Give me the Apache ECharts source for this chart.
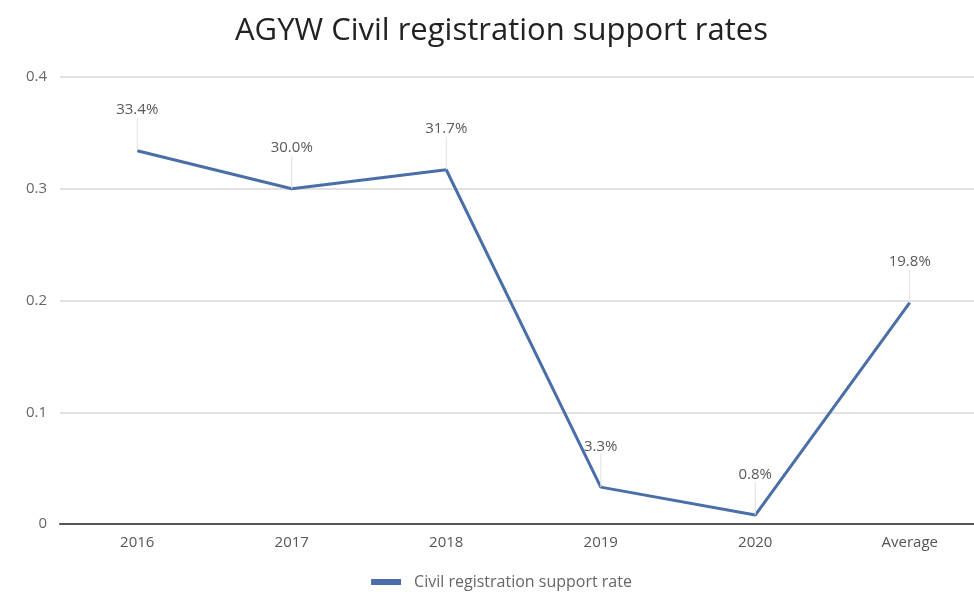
<!DOCTYPE html>
<html>
<head>
<meta charset="utf-8">
<script src="https://cdn.jsdelivr.net/npm/echarts@6/dist/echarts.min.js"></script>
<style>
html,body{margin:0;padding:0;background:#fff;overflow:hidden;}
#main{width:1003px;height:595px;}
</style>
</head>
<body>
<div id="main"></div>
<script>
const categories = ['2016', '2017', '2018', '2019', '2020', 'Average'];
const rates = [0.334, 0.300, 0.317, 0.033, 0.008, 0.198];
const seriesName = 'Civil registration support rate';
const titleText = 'AGYW Civil registration support rates';

const chart = echarts.init(document.getElementById('main'));
chart.setOption({
  backgroundColor: '#ffffff',
  animation: false,
  title: {
    text: titleText,
    left: 'center',
    top: 11,
    textStyle: { fontFamily: 'Open Sans', fontSize: 31, fontWeight: 'normal', color: '#222' }
  },
  legend: {
    top: 569,
    left: 'center',
    itemWidth: 30,
    itemHeight: 6,
    itemGap: 10,
    icon: 'rect',
    textStyle: { fontFamily: 'Open Sans', fontSize: 16, color: '#666', padding: [0, 0, 0, 8] },
    data: [seriesName]
  },
  grid: { left: 60, right: 16, top: 77, bottom: 71 },
  xAxis: {
    type: 'category',
    data: categories,
    boundaryGap: true,
    axisLine: { lineStyle: { color: '#555', width: 2 } },
    axisTick: { show: false },
    axisLabel: { fontFamily: 'Open Sans', fontSize: 15, color: '#555', margin: 11 }
  },
  yAxis: {
    type: 'value',
    min: 0,
    max: 0.4,
    interval: 0.1,
    axisLine: { show: false },
    axisTick: { show: false },
    axisLabel: { fontFamily: 'Open Sans', fontSize: 15, color: '#666', margin: 13 },
    splitLine: { lineStyle: { color: '#d9d9d9', width: 1.5 } }
  },
  series: [{
    name: seriesName,
    type: 'line',
    data: rates,
    color: '#4a6ea8',
    symbol: 'circle',
    symbolSize: 0.1,
    showSymbol: true,
    lineStyle: { color: '#4a6ea8', width: 3 },
    label: {
      show: true,
      position: 'top',
      distance: 4,
      fontFamily: 'Open Sans',
      fontSize: 15,
      color: '#595959',
      formatter: p => (p.value * 100).toFixed(1) + '%'
    },
    labelLayout: { dy: -29 },
    labelLine: { show: true, lineStyle: { color: '#e0e0e0', width: 1 } }
  }]
});
</script>
</body>
</html>
